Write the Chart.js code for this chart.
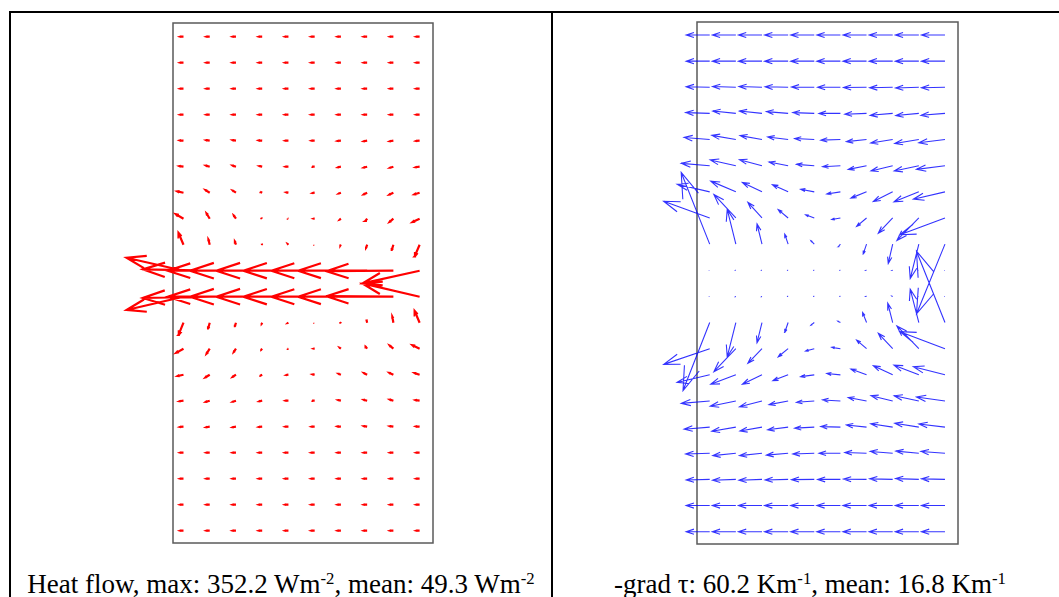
<!DOCTYPE html>
<html>
<head>
<meta charset="utf-8">
<script src="https://cdn.jsdelivr.net/npm/chart.js@4.4.1/dist/chart.umd.min.js"></script>
<style>
  body { margin:0; width:1059px; height:597px; overflow:hidden; background:#fff; position:relative; }
  .rule { position:absolute; background:#000; }
  canvas { position:absolute; }
  .caption { position:absolute; top:569px; line-height:30px; font-family:"Liberation Serif","Times New Roman",serif; font-size:27px; white-space:nowrap; text-align:center; color:#000; }
  .caption sup { font-size:62%; vertical-align:0.55em; line-height:0; }
</style>
</head>
<body>
<div class="rule" style="left:9px;top:11px;width:1050px;height:2px"></div>
<div class="rule" style="left:9px;top:11px;width:2px;height:586px"></div>
<div class="rule" style="left:551px;top:11px;width:2px;height:586px"></div>

<canvas id="heatChart" width="350" height="545" style="left:100px;top:10px"></canvas>
<canvas id="gradChart" width="350" height="545" style="left:640px;top:10px"></canvas>

<div class="caption" style="left:11px;width:540px">Heat flow, max: 352.2 Wm<sup>-2</sup>, mean: 49.3 Wm<sup>-2</sup></div>
<div class="caption" style="left:553px;width:514px">-grad τ: 60.2 Km<sup>-1</sup>, mean: 16.8 Km<sup>-1</sup></div>

<script>
// grid positions (column index, row index counted from the bottom)
const cols = [1, 2, 3, 4, 5, 6, 7, 8, 9, 10]
const rows = [20, 19, 18, 17, 16, 15, 14, 13, 12, 11, 10, 9, 8, 7, 6, 5, 4, 3, 2, 1]

// heat flow vectors, rows listed top to bottom, in grid units
const heatU = [
  [-0.12, -0.12, -0.12, -0.12, -0.12, -0.12, -0.12, -0.12, -0.12, -0.12],
  [-0.12, -0.12, -0.12, -0.12, -0.12, -0.12, -0.12, -0.12, -0.12, -0.12],
  [-0.12, -0.12, -0.12, -0.12, -0.12, -0.12, -0.12, -0.12, -0.12, -0.12],
  [-0.12, -0.12, -0.12, -0.12, -0.12, -0.12, -0.12, -0.12, -0.12, -0.12],
  [-0.13, -0.13, -0.12, -0.12, -0.11, -0.11, -0.12, -0.12, -0.13, -0.13],
  [-0.15, -0.14, -0.12, -0.10, -0.10, -0.10, -0.10, -0.12, -0.13, -0.15],
  [-0.23, -0.16, -0.12, -0.08, -0.07, -0.07, -0.08, -0.12, -0.15, -0.19],
  [-0.29, -0.12, -0.08, -0.04, -0.03, -0.03, -0.04, -0.06, -0.14, -0.27],
  [-0.19, -0.05, -0.04, -0.02, -0.02, -0.02, -0.02, -0.04, -0.06, -0.19],
  [-2.17, -2.55, -2.60, -2.75, -2.75, -2.72, -2.65, -2.63, -2.55, -2.18],
  [-2.17, -2.55, -2.60, -2.75, -2.75, -2.72, -2.65, -2.63, -2.55, -2.18],
  [-0.19, -0.06, -0.04, -0.02, -0.02, -0.02, -0.02, -0.03, -0.04, -0.19],
  [-0.28, -0.12, -0.08, -0.04, -0.03, -0.03, -0.04, -0.06, -0.14, -0.27],
  [-0.22, -0.16, -0.12, -0.08, -0.07, -0.07, -0.08, -0.12, -0.15, -0.19],
  [-0.15, -0.14, -0.12, -0.10, -0.10, -0.10, -0.10, -0.12, -0.13, -0.15],
  [-0.13, -0.13, -0.12, -0.12, -0.11, -0.11, -0.12, -0.12, -0.13, -0.13],
  [-0.12, -0.12, -0.12, -0.12, -0.12, -0.12, -0.12, -0.12, -0.12, -0.12],
  [-0.12, -0.12, -0.12, -0.12, -0.12, -0.12, -0.12, -0.12, -0.12, -0.12],
  [-0.12, -0.12, -0.12, -0.12, -0.12, -0.12, -0.12, -0.12, -0.12, -0.12],
  [-0.12, -0.12, -0.12, -0.12, -0.12, -0.12, -0.12, -0.12, -0.12, -0.12]
]
const heatV = [
  [0, 0, 0, 0, 0, 0, 0, 0, 0, 0],
  [0, 0, 0, 0, 0, 0, 0, 0, 0, 0],
  [0, 0, 0, 0, 0, 0, 0, 0, 0, 0],
  [0, 0, 0, 0, 0, 0, 0, 0, 0, 0],
  [0.01, 0.02, 0.02, 0.01, 0, 0, -0.01, -0.02, -0.02, -0.01],
  [0.02, 0.04, 0.04, 0.02, 0, 0, -0.02, -0.03, -0.04, -0.02],
  [0.05, 0.10, 0.08, 0.04, 0.01, -0.01, -0.03, -0.06, -0.07, -0.06],
  [0.17, 0.20, 0.12, 0.04, 0.01, 0, -0.03, -0.08, -0.12, -0.13],
  [0.45, 0.20, 0.12, 0.04, 0.02, 0, -0.03, -0.12, -0.20, -0.45],
  [0.50, 0.05, 0, 0, 0, 0, 0, 0, -0.02, -0.49],
  [-0.51, -0.05, 0, 0, 0, 0, 0, 0, 0.02, 0.51],
  [-0.47, -0.22, -0.13, -0.04, -0.01, 0, 0.03, 0.12, 0.23, 0.45],
  [-0.16, -0.19, -0.12, -0.04, -0.01, 0, 0.03, 0.08, 0.12, 0.13],
  [-0.05, -0.10, -0.08, -0.04, -0.01, 0.01, 0.03, 0.06, 0.07, 0.06],
  [-0.02, -0.04, -0.04, -0.02, 0, 0, 0.02, 0.03, 0.04, 0.02],
  [-0.01, -0.02, -0.02, -0.01, 0, 0, 0.01, 0.02, 0.02, 0.01],
  [0, 0, 0, 0, 0, 0, 0, 0, 0, 0],
  [0, 0, 0, 0, 0, 0, 0, 0, 0, 0],
  [0, 0, 0, 0, 0, 0, 0, 0, 0, 0],
  [0, 0, 0, 0, 0, 0, 0, 0, 0, 0]
]

// -grad tau vectors, same layout
const gradU = [
  [-0.90, -0.90, -0.90, -0.90, -0.90, -0.90, -0.90, -0.90, -0.90, -0.90],
  [-0.90, -0.90, -0.90, -0.90, -0.90, -0.90, -0.90, -0.90, -0.90, -0.90],
  [-0.90, -0.89, -0.88, -0.88, -0.87, -0.87, -0.88, -0.88, -0.89, -0.90],
  [-0.92, -0.88, -0.86, -0.83, -0.82, -0.82, -0.83, -0.86, -0.88, -0.92],
  [-0.98, -0.92, -0.84, -0.78, -0.75, -0.75, -0.77, -0.84, -0.92, -1.00],
  [-1.09, -0.98, -0.86, -0.73, -0.68, -0.68, -0.70, -0.83, -0.94, -1.09],
  [-1.25, -0.96, -0.75, -0.60, -0.52, -0.52, -0.60, -0.74, -0.95, -1.21],
  [-1.76, -0.84, -0.54, -0.38, -0.33, -0.33, -0.38, -0.55, -0.84, -1.72],
  [-1.09, -0.33, -0.19, -0.13, -0.13, -0.08, -0.13, -0.17, -0.33, -1.09],
  [-0.02, -0.03, -0.03, -0.03, -0.03, -0.03, -0.03, -0.03, -0.02, -0.02],
  [-0.02, -0.03, -0.03, -0.03, -0.03, -0.03, -0.03, -0.03, -0.02, -0.02],
  [-1.02, -0.33, -0.19, -0.13, -0.13, -0.10, -0.15, -0.19, -0.33, -1.09],
  [-1.76, -0.84, -0.54, -0.38, -0.33, -0.33, -0.38, -0.55, -0.84, -1.72],
  [-1.25, -0.96, -0.75, -0.58, -0.52, -0.52, -0.60, -0.74, -0.95, -1.21],
  [-1.09, -0.98, -0.86, -0.73, -0.68, -0.68, -0.70, -0.83, -0.94, -1.09],
  [-0.98, -0.92, -0.84, -0.78, -0.75, -0.75, -0.77, -0.84, -0.92, -1.00],
  [-0.92, -0.88, -0.86, -0.83, -0.82, -0.82, -0.83, -0.86, -0.88, -0.92],
  [-0.90, -0.89, -0.88, -0.88, -0.87, -0.87, -0.88, -0.88, -0.89, -0.90],
  [-0.90, -0.90, -0.90, -0.90, -0.90, -0.90, -0.90, -0.90, -0.90, -0.90],
  [-0.90, -0.90, -0.90, -0.90, -0.90, -0.90, -0.90, -0.90, -0.90, -0.90]
]
const gradV = [
  [0, 0, 0, 0, 0, 0, 0, 0, 0, 0],
  [0, 0, 0, 0, 0, 0, 0, 0, 0, 0],
  [0.02, 0.03, 0.03, 0.02, 0.01, 0, -0.01, -0.02, -0.03, -0.02],
  [0.03, 0.09, 0.09, 0.07, 0.03, 0, -0.03, -0.07, -0.08, -0.07],
  [0.08, 0.16, 0.15, 0.10, 0.04, -0.02, -0.08, -0.13, -0.15, -0.12],
  [0.09, 0.22, 0.23, 0.14, 0.05, -0.04, -0.14, -0.20, -0.20, -0.14],
  [0.29, 0.41, 0.36, 0.27, 0.10, -0.08, -0.24, -0.37, -0.38, -0.28],
  [0.64, 0.90, 0.60, 0.32, 0.12, -0.06, -0.32, -0.58, -0.86, -0.64],
  [2.74, 1.33, 0.77, 0.38, 0.13, -0.10, -0.38, -0.74, -1.32, -2.67],
  [0, 0.01, 0.01, 0, 0, 0, 0, -0.01, 0, 0],
  [0, -0.01, -0.01, 0, 0, 0, 0, 0.01, 0, 0],
  [-2.60, -1.31, -0.77, -0.38, -0.10, 0.05, 0.38, 0.74, 1.28, 2.73],
  [-0.60, -0.88, -0.56, -0.31, -0.09, 0.05, 0.33, 0.59, 0.87, 0.65],
  [-0.29, -0.36, -0.36, -0.22, -0.07, 0.05, 0.22, 0.35, 0.37, 0.31],
  [-0.09, -0.20, -0.22, -0.14, -0.05, 0.04, 0.13, 0.20, 0.20, 0.15],
  [-0.08, -0.16, -0.15, -0.10, -0.04, 0.02, 0.08, 0.13, 0.15, 0.12],
  [-0.03, -0.09, -0.09, -0.07, -0.03, 0, 0.03, 0.07, 0.08, 0.07],
  [-0.02, -0.03, -0.03, -0.02, -0.01, 0, 0.01, 0.02, 0.03, 0.02],
  [0, 0, 0, 0, 0, 0, 0, 0, 0, 0],
  [0, 0, 0, 0, 0, 0, 0, 0, 0, 0]
]

// turn a vector field into polyline points (shaft + quiver style head), gaps as nulls
const quiverPoints = (U, V) => {
  const pts = []
  const gap = {x: null, y: null}
  rows.forEach((y, i) => {
    cols.forEach((x, j) => {
      const u = U[i][j], v = V[i][j]
      const tx = x + u, ty = y + v
      const a = 0.33, b = 0.33
      pts.push({x, y}, {x: tx, y: ty}, gap)
      pts.push({x: tx - a * (u + b * v), y: ty - a * (v - b * u)}, {x: tx, y: ty},
               {x: tx - a * (u - b * v), y: ty - a * (v + b * u)}, gap)
    })
  })
  return pts
}

// box round the plot area
const framePlugin = {
  id: 'frame',
  beforeDatasetsDraw(chart) {
    const {ctx, chartArea: a} = chart
    ctx.save()
    ctx.strokeStyle = '#5a5a5a'
    ctx.lineWidth = 1.5
    ctx.strokeRect(a.left, a.top, a.right - a.left, a.bottom - a.top)
    ctx.restore()
  }
}

const renderQuiver = (canvas, U, V, color, width, pad, xr, yr) => {
  return new Chart(canvas, {
    type: 'scatter',
    data: {
      datasets: [{
        data: quiverPoints(U, V),
        showLine: true,
        spanGaps: false,
        borderColor: color,
        borderWidth: width,
        pointRadius: 0,
        tension: 0,
        clip: false
      }]
    },
    options: {
      responsive: false,
      animation: false,
      events: [],
      layout: { padding: pad },
      plugins: { legend: { display: false }, tooltip: { enabled: false } },
      scales: {
        x: { type: 'linear', min: xr[0], max: xr[1], display: false },
        y: { type: 'linear', min: yr[0], max: yr[1], display: false }
      }
    },
    plugins: [framePlugin]
  })
}

renderQuiver(document.querySelector('#heatChart'), heatU, heatV, '#ff0000', 2.2,
  {left: 73, right: 17, top: 13, bottom: 12}, [0.6, 10.51], [0.527, 20.527])
renderQuiver(document.querySelector('#gradChart'), gradU, gradV, 'rgba(0,0,255,0.8)', 1.1,
  {left: 57, right: 32, top: 12, bottom: 11}, [0.514, 10.498], [0.529, 20.497])
</script>
</body>
</html>
